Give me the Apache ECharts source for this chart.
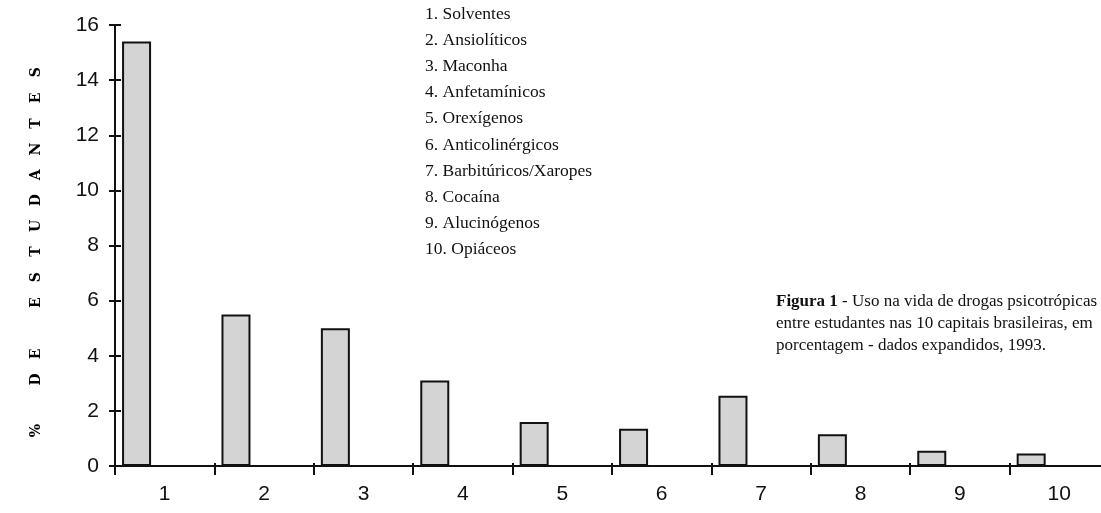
<!DOCTYPE html>
<html>
<head>
    <meta charset="utf-8">
    <script src="https://cdn.jsdelivr.net/npm/echarts@6/dist/echarts.min.js"></script>
    <style type="text/css">
        html, body { width: 100%; height: 100%; margin: 0; background: #fff; }
        #chart { width: 1101px; height: 513px; }
    </style>
</head>
<body>
<div id="chart"></div>
<script type="text/javascript">
    // dados
    var categorias = ['1', '2', '3', '4', '5', '6', '7', '8', '9', '10'];
    var valores = [15.4, 5.5, 5.0, 3.1, 1.6, 1.35, 2.55, 1.15, 0.55, 0.45];
    var drogas = [
        '1. Solventes', '2. Ansiolíticos', '3. Maconha', '4. Anfetamínicos', '5. Orexígenos',
        '6. Anticolinérgicos', '7. Barbitúricos/Xaropes', '8. Cocaína', '9. Alucinógenos', '10. Opiáceos'
    ];
    var tituloY = '% DE ESTUDANTES';
    var legendaFigura = [
        '{b|Figura 1} - Uso na vida de drogas psicotrópicas',
        'entre estudantes nas 10 capitais brasileiras, em',
        'porcentagem - dados expandidos, 1993.'
    ];

    // cada letra do título num bloco de largura fixa (espaçamento largo)
    var nomeY = tituloY.split('').map(function (ch) {
        return '{c|' + (ch === ' ' ? '\u00a0' : ch) + '}';
    }).join('');

    var eixo = { color: '#111', width: 2 };

    var option = {
        animation: false,
        backgroundColor: '#fff',
        grid: { left: 115, top: 25, width: 994, height: 441, outerBoundsMode: 'none' },
        xAxis: [
            {
                type: 'category',
                data: categorias,
                axisLine: { show: true, lineStyle: eixo },
                axisTick: { show: true, length: 9, lineStyle: eixo },
                axisLabel: { margin: 18, color: '#111', fontSize: 21, fontFamily: 'Liberation Sans' }
            },
            {
                type: 'category',
                data: categorias,
                position: 'bottom',
                offset: 0,
                axisLine: { show: false },
                axisTick: { show: true, inside: true, length: 3, lineStyle: eixo },
                axisLabel: { show: false }
            }
        ],
        yAxis: [
            {
                type: 'value',
                min: 0,
                max: 16,
                interval: 2,
                splitLine: { show: false },
                axisLine: { show: true, lineStyle: eixo },
                axisTick: { show: true, length: 6, lineStyle: eixo },
                axisLabel: { margin: 16, color: '#111', fontSize: 21, fontFamily: 'Liberation Sans' },
                name: nomeY,
                nameLocation: 'middle',
                nameRotate: 90,
                nameGap: 72,
                nameTextStyle: {
                    padding: [0, 12, 0, 0],
                    rich: {
                        c: {
                            width: 25.6,
                            align: 'center',
                            fontSize: 14,
                            fontWeight: 900,
                            fontFamily: 'DejaVu Serif',
                            color: '#000'
                        }
                    }
                }
            },
            {
                type: 'value',
                min: 0,
                max: 16,
                interval: 2,
                splitLine: { show: false },
                axisLine: { show: false },
                axisTick: { show: true, inside: true, length: 6, lineStyle: eixo },
                axisLabel: { show: false },
                position: 'left',
                offset: 0
            }
        ],
        series: [
            {
                type: 'bar',
                data: valores,
                barWidth: 29,
                barGap: '94%',
                z: 1,
                itemStyle: { color: '#d4d4d4', borderColor: '#111', borderWidth: 2 }
            },
            {
                // série vazia só para empurrar as barras para a esquerda da categoria
                type: 'bar',
                data: categorias.map(function () { return 0; }),
                barWidth: 29,
                silent: true,
                itemStyle: { color: 'rgba(0,0,0,0)' }
            }
        ],
        graphic: [
            {
                type: 'text',
                left: 425,
                top: 1,
                style: {
                    text: drogas.join('\n'),
                    fontFamily: 'Liberation Serif',
                    fontSize: 17.5,
                    lineHeight: 26.2,
                    fill: '#111'
                }
            },
            {
                type: 'text',
                left: 776,
                top: 291,
                style: {
                    text: legendaFigura.join('\n'),
                    fontFamily: 'Liberation Serif',
                    fontSize: 17,
                    lineHeight: 22,
                    fill: '#111',
                    rich: {
                        b: { fontFamily: 'Liberation Serif', fontSize: 17, fontWeight: 'bold', fill: '#111', lineHeight: 22 }
                    }
                }
            }
        ]
    };

    var myChart = echarts.init(document.getElementById('chart'));
    myChart.setOption(option);
</script>
</body>
</html>
